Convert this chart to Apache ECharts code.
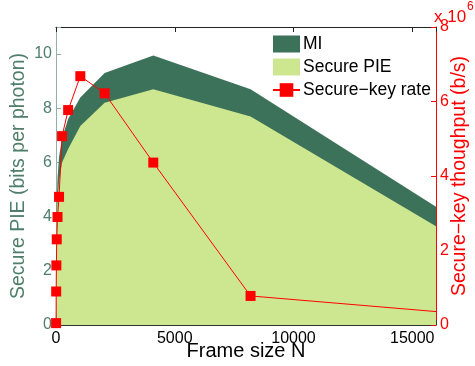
<!DOCTYPE html>
<html>
<head>
<meta charset="utf-8">
<script src="https://cdn.jsdelivr.net/npm/echarts@6/dist/echarts.min.js"></script>
<style>html,body{margin:0;padding:0;background:#fff}#c{width:475px;height:366px}</style>
</head>
<body>
<div id="c"></div>
<script>
// Frame size N
var frameN = [4, 8, 16, 32, 64, 128, 256, 512, 1024, 2048, 4096, 8192, 16384];
// Mutual information (bits per photon)
var miVals = [1.5, 2.6, 3.6, 4.6, 5.4, 6.2, 6.9, 7.6, 8.4, 9.3, 9.95, 8.7, 4.15];
// Secure PIE (bits per photon)
var pieVals = [1.0, 2.0, 3.0, 3.9, 4.6, 5.3, 6.0, 6.5, 7.35, 8.2, 8.7, 7.7, 3.45];
// Secure-key throughput, in units of 10^6 b/s
var rateE6 = [0.05, 0.9, 1.6, 2.3, 2.9, 3.44, 5.07, 5.77, 6.68, 6.22, 4.36, 0.78, 0.34];
var xTicks = [0, 5000, 10000, 15000];
var leftTicks = [0, 2, 4, 6, 8, 10];
var rightTicks = [0, 2, 4, 6, 8];

function pairs(xs, ys) { return xs.map(function (x, i) { return [x, ys[i]]; }); }

var FONT = '"Liberation Sans", Arial, sans-serif';
var DARK = '#3c7259';
var LIGHT = '#cde790';
var GTEXT = '#4f7e6c';
var GAXIS = '#8fb0a2';
var RED = '#ff0000';

var chart = echarts.init(document.getElementById('c'), null, {renderer: 'canvas'});
chart.setOption({
  animation: false,
  textStyle: {fontFamily: FONT},
  grid: {left: 56, right: 39, top: 27, bottom: 41, containLabel: false, outerBoundsMode: 'none'},
  legend: {
    orient: 'vertical', left: 272, top: 35, padding: 0, itemWidth: 27, itemHeight: 17, itemGap: 5,
    textStyle: {fontFamily: FONT, fontSize: 17.5, color: '#000', padding: [0, 0, 0, -2]},
    data: [{name: 'MI', icon: 'rect'}, {name: 'Secure PIE', icon: 'rect'}, {name: 'Secure\u2212key rate'}]
  },
  xAxis: [{
    type: 'value', min: 0, max: 16000, interval: 5000, position: 'bottom',
    name: 'Frame size N', nameLocation: 'middle', nameGap: 16, nameMoveOverlap: false,
    nameTextStyle: {fontFamily: FONT, fontSize: 20, color: '#000', verticalAlign: 'top', padding: [0, 0, 0, 0]},
    axisLine: {show: true, onZero: false, lineStyle: {color: '#333', width: 1}},
    axisTick: {show: true, inside: true, length: 5, lineStyle: {color: '#333'}},
    axisLabel: {fontFamily: FONT, fontSize: 16, color: '#000', margin: 6,
      formatter: function (v) { return xTicks.indexOf(v) >= 0 ? String(v) : ''; }},
    splitLine: {show: false}
  }, {
    type: 'value', min: 0, max: 16000, interval: 5000, position: 'top',
    axisLine: {show: true, onZero: false, lineStyle: {color: '#222', width: 1}},
    axisTick: {show: true, inside: true, length: 5, lineStyle: {color: '#222'}},
    axisLabel: {show: false}, splitLine: {show: false}
  }],
  yAxis: [{
    type: 'value', min: 0, max: 11, interval: 2, position: 'left',
    name: 'Secure PIE (bits per photon)', nameLocation: 'middle', nameGap: 27, nameMoveOverlap: false,
    nameTextStyle: {fontFamily: FONT, fontSize: 19.5, color: GTEXT},
    axisLine: {show: true, onZero: false, lineStyle: {color: GAXIS, width: 1}},
    axisTick: {show: true, inside: true, length: 5, lineStyle: {color: GAXIS}},
    axisLabel: {fontFamily: FONT, fontSize: 16, color: GTEXT, margin: 4,
      formatter: function (v) { return leftTicks.indexOf(v) >= 0 ? String(v) : ''; }},
    splitLine: {show: false}
  }, {
    type: 'value', min: 0, max: 8, interval: 2, position: 'right',
    name: 'Secure\u2212key thoughput (b/s)', nameLocation: 'middle', nameGap: 14, nameRotate: 90, nameMoveOverlap: false,
    nameTextStyle: {fontFamily: FONT, fontSize: 19.5, color: RED},
    axisLine: {show: true, onZero: false, lineStyle: {color: RED, width: 1}},
    axisTick: {show: true, inside: true, length: 5, lineStyle: {color: RED}},
    axisLabel: {fontFamily: FONT, fontSize: 16, color: RED, margin: 4,
      formatter: function (v) { return rightTicks.indexOf(v) >= 0 ? String(v) : ''; }},
    splitLine: {show: false}
  }],
  graphic: [{
    type: 'text', left: 434, top: 9, z: 100,
    style: {text: 'x 10', fontFamily: FONT, fontSize: 17, fill: RED}
  }, {
    type: 'text', left: 467, top: 1, z: 100,
    style: {text: '6', fontFamily: FONT, fontSize: 12, fill: RED}
  }],
  series: [{
    name: 'MI', type: 'line', xAxisIndex: 0, yAxisIndex: 0, data: pairs(frameN, miVals),
    showSymbol: false, symbol: 'none', clip: true, z: 1,
    lineStyle: {width: 0, color: DARK}, itemStyle: {color: DARK},
    areaStyle: {color: DARK, opacity: 1, origin: 'start'}
  }, {
    name: 'Secure PIE', type: 'line', xAxisIndex: 0, yAxisIndex: 0, data: pairs(frameN, pieVals),
    showSymbol: false, symbol: 'none', clip: true, z: 2,
    lineStyle: {width: 0, color: LIGHT}, itemStyle: {color: LIGHT},
    areaStyle: {color: LIGHT, opacity: 1, origin: 'start'}
  }, {
    name: 'Secure\u2212key rate', type: 'line', xAxisIndex: 0, yAxisIndex: 1, data: pairs(frameN, rateE6),
    symbol: 'rect', symbolSize: 10, showSymbol: true, clip: true, z: 5,
    lineStyle: {width: 1, color: RED}, itemStyle: {color: RED}
  }]
});
</script>
</body>
</html>
